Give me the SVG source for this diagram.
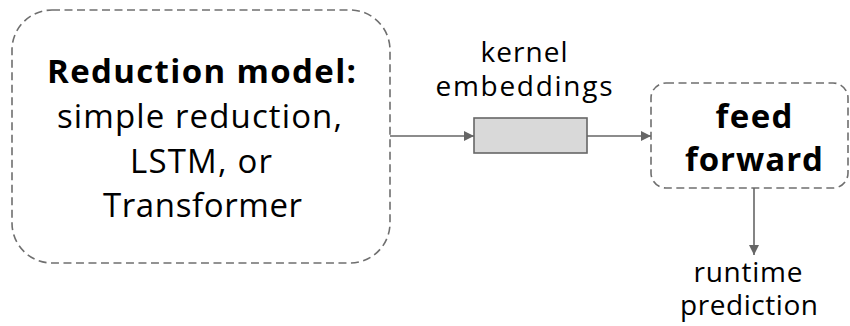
<svg xmlns="http://www.w3.org/2000/svg" width="850" height="326" viewBox="0 0 850 326">
  <defs>
    <marker id="arrow" viewBox="0 0 10 10" refX="10" refY="5" markerWidth="10" markerHeight="10" markerUnits="userSpaceOnUse" orient="auto">
      <path d="M0,0 L10,5 L0,10 z" fill="#666666"/>
    </marker>
    <style>
      .dashed { fill: none; stroke: #6f6f6f; stroke-width: 1.6; stroke-dasharray: 8 4.5; }
      .edge { fill: none; stroke: #666666; stroke-width: 1.6; marker-end: url(#arrow); }
      text { font-family: "Open Sans", Roboto, "Liberation Sans", sans-serif; fill: #000000; text-anchor: middle; }
      .big { font-size: 33px; }
      .bold { font-weight: bold; }
      .label { font-size: 28px; }
    </style>
  </defs>

  <g id="reduction-model">
    <rect class="dashed" x="12" y="10" width="378" height="253" rx="40" ry="40"/>
    <text class="big bold" x="201.5" y="83" textLength="309">Reduction model:</text>
    <text class="big" x="199.5" y="128" textLength="285">simple reduction,</text>
    <text class="big" x="201" y="173" textLength="142">LSTM, or</text>
    <text class="big" x="202.5" y="217" textLength="199">Transformer</text>
  </g>

  <g id="kernel-embeddings">
    <rect x="474" y="118" width="113" height="35" fill="#d9d9d9" stroke="#666666" stroke-width="1.6"/>
    <text class="label" x="524" y="62" textLength="87">kernel</text>
    <text class="label" x="524" y="96" textLength="177">embeddings</text>
  </g>

  <g id="feed-forward">
    <rect class="dashed" x="651" y="83" width="197" height="105" rx="15" ry="15"/>
    <text class="big bold" x="754" y="128" textLength="77">feed</text>
    <text class="big bold" x="754" y="171" textLength="138">forward</text>
  </g>

  <g id="runtime-prediction">
    <text class="label" x="748" y="282" textLength="109">runtime</text>
    <text class="label" x="749" y="315" textLength="138">prediction</text>
  </g>

  <g id="connectors">
    <line class="edge" x1="390" y1="136" x2="474" y2="136"/>
    <line class="edge" x1="587" y1="136" x2="651" y2="136"/>
    <line class="edge" x1="754" y1="188" x2="754" y2="255"/>
  </g>
</svg>
